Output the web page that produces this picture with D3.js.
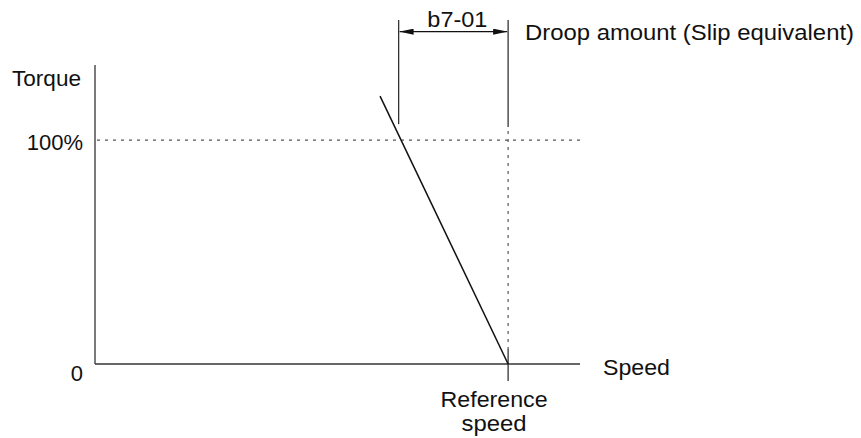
<!DOCTYPE html>
<html><head><meta charset="utf-8">
<script src="https://cdn.jsdelivr.net/npm/d3@7"></script>
<style>html,body{margin:0;padding:0;background:#fff}svg{display:block}</style>
</head><body><svg id="c" width="861" height="438"></svg>
<script>
// ---- data ----
const speedDomain = [0, 117.4];       // % of reference speed along the axis
const torqueDomain = [0, 133.5];      // % torque along the axis
const refSpeed = 100;                 // reference speed
const fullTorque = 100;               // 100% torque
const droopLine = [[69, 119.6], [100, 0]];   // speed %, torque %
const droopMarkers = [73.5, 100];     // b7-01 bracket ends (speed %)
const markerTop = 153.6, arrowLevel = 148.4;
const markerBottoms = [107.1, 105.8];
const yTickLabels = [{v: 0, t: "0"}, {v: 100, t: "100%"}];
const labels = {
  yTitle: "Torque", xTitle: "Speed", ref: ["Reference", "speed"],
  droop: "b7-01", droopNote: "Droop amount (Slip equivalent)"
};

const svg = d3.select("#c");
const x = d3.scaleLinear().domain(speedDomain).range([95, 580]);
const y = d3.scaleLinear().domain(torqueDomain).range([364, 65]);
const font = "'Liberation Sans', Arial, Helvetica, sans-serif";

// axes
svg.append("line").attr("x1", x(0)).attr("x2", x(0)).attr("y1", y(torqueDomain[1])).attr("y2", y(0))
  .attr("stroke", "#333").attr("stroke-width", 1.3);
svg.append("line").attr("x1", x(0)).attr("x2", x(speedDomain[1])).attr("y1", y(0)).attr("y2", y(0))
  .attr("stroke", "#333").attr("stroke-width", 1.3);

// 100% dotted line
svg.append("line").attr("x1", x(0) + 2).attr("x2", x(speedDomain[1])).attr("y1", y(fullTorque)).attr("y2", y(fullTorque))
  .attr("stroke", "#555").attr("stroke-width", 1.2).attr("stroke-dasharray", "3,5");
// reference speed dotted line
svg.append("line").attr("x1", x(refSpeed)).attr("x2", x(refSpeed)).attr("y1", y(fullTorque) - 9).attr("y2", y(0) - 15)
  .attr("stroke", "#555").attr("stroke-width", 1.2).attr("stroke-dasharray", "3,5");
// reference speed tick
svg.append("line").attr("x1", x(refSpeed)).attr("x2", x(refSpeed)).attr("y1", y(0) - 15).attr("y2", y(0) + 17)
  .attr("stroke", "#333").attr("stroke-width", 1.3);

// droop line
svg.append("path").datum(droopLine)
  .attr("d", d3.line().x(d => x(d[0])).y(d => y(d[1])))
  .attr("fill", "none").attr("stroke", "#111").attr("stroke-width", 1.5);

// bracket verticals
svg.selectAll("line.mk").data(droopMarkers).join("line").attr("class", "mk")
  .attr("x1", d => x(d)).attr("x2", d => x(d))
  .attr("y1", y(markerTop)).attr("y2", (d, i) => y(markerBottoms[i]))
  .attr("stroke", "#333").attr("stroke-width", 1.3);

// arrow
const defs = svg.append("defs");
defs.append("marker").attr("id", "ah").attr("viewBox", "0 0 14 6").attr("refX", 14).attr("refY", 3)
  .attr("markerWidth", 14).attr("markerHeight", 6).attr("markerUnits", "userSpaceOnUse").attr("orient", "auto-start-reverse")
  .append("path").attr("d", "M0,0 L14,3 L0,6 Z").attr("fill", "#111");
svg.append("line").attr("x1", x(droopMarkers[0]) + 1).attr("x2", x(droopMarkers[1]) - 1)
  .attr("y1", y(arrowLevel)).attr("y2", y(arrowLevel))
  .attr("stroke", "#111").attr("stroke-width", 1.3)
  .attr("marker-start", "url(#ah)").attr("marker-end", "url(#ah)");

// text
function txt(s, px, py, anchor, len) {
  const t = svg.append("text").attr("x", px).attr("y", py).attr("text-anchor", anchor)
    .attr("font-family", font).attr("font-size", 22).attr("fill", "#111").text(s);
  if (len) t.attr("textLength", len).attr("lengthAdjust", "spacingAndGlyphs");
  return t;
}
txt(labels.yTitle, 12, 86, "start", 69);
yTickLabels.forEach(d => txt(d.t, x(0) - 12, y(d.v) + (d.v === 0 ? 17 : 10), "end"));
txt(labels.xTitle, 603, 375, "start", 67);
txt(labels.ref[0], x(refSpeed) - 14, 407, "middle", 107);
txt(labels.ref[1], x(refSpeed) - 14, 431, "middle", 65);
txt(labels.droop, (x(droopMarkers[0]) + x(droopMarkers[1])) / 2 + 4, 27, "middle", 60);
txt(labels.droopNote, 525, 40, "start", 329);
</script></body></html>
